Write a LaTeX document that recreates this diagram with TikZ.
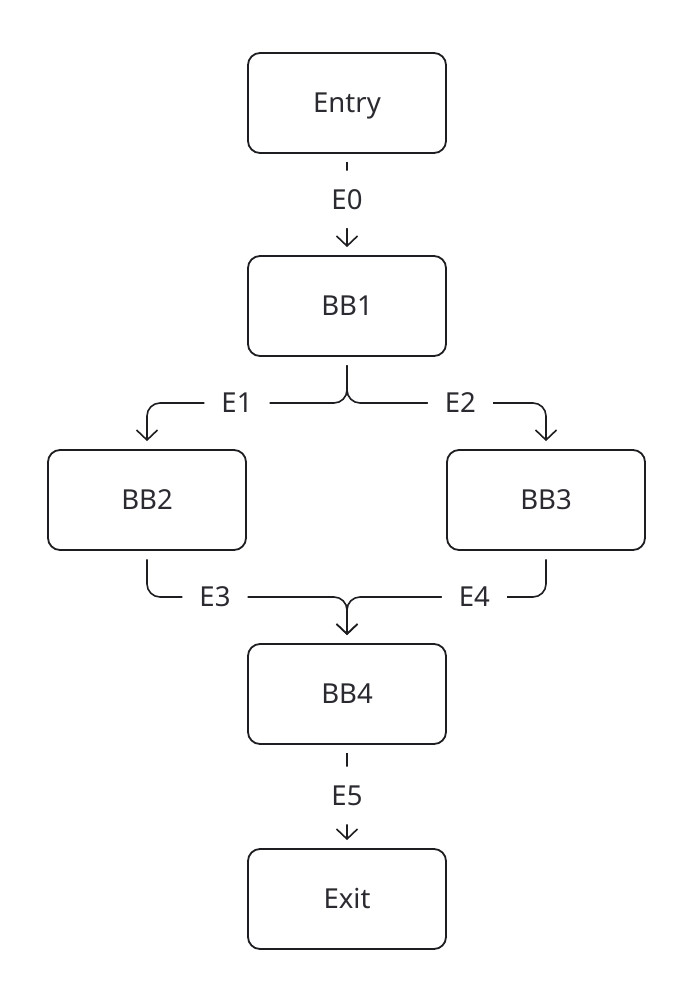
\documentclass[tikz,border=0pt]{standalone}
\usepackage{fontspec}
\setmainfont{Noto Sans}
\usetikzlibrary{arrows.meta}
\definecolor{linec}{HTML}{1E1E22}
\definecolor{textc}{HTML}{2A2A30}
\tikzset{
  block/.style={draw=linec, line width=1.8pt, rounded corners=12pt, minimum width=198pt, minimum height=100pt, inner sep=0pt, text=textc, font=\fontsize{27.5}{32}\selectfont, text height=19.6pt, text depth=0pt},
  conn/.style={draw=linec, line width=1.6pt, rounded corners=13pt, -{Straight Barb[length=10pt,width=21pt,line width=1.6pt]}, shorten <=8.5pt, shorten >=8pt},
  lbl/.style={fill=white, text=textc, font=\fontsize{27.5}{32}\selectfont, text height=19.6pt, text depth=0pt, inner xsep=17pt, inner ysep=19pt}
}
\begin{document}
\begin{tikzpicture}[x=1pt,y=-1pt]
\useasboundingbox[fill=white] (0,0) rectangle (694,1002);
\node[block] (entry) at (347,103) {Entry};
\node[block] (bb1) at (347,306) {BB1};
\node[block] (bb2) at (147,500) {BB2};
\node[block] (bb3) at (546,500) {BB3};
\node[block] (bb4) at (347,694) {BB4};
\node[block] (exit) at (347,899) {Exit};
\coordinate (split) at (347,403);
\coordinate (merge) at (347,597);
\draw[conn] (entry.south) -- node[lbl, pos=0.45] {E0} (bb1.north);
\draw[conn] (bb1.south) -- (split) -- node[lbl, pos=0.55] {E1} (split -| bb2.north) -- (bb2.north);
\draw[conn] (bb1.south) -- (split) -- node[lbl, pos=0.57] {E2} (split -| bb3.north) -- (bb3.north);
\draw[conn] (bb2.south) -- (merge -| bb2.south) -- node[lbl, pos=0.34] {E3} (merge) -- (bb4.north);
\draw[conn] (bb3.south) -- (merge -| bb3.south) -- node[lbl, pos=0.36] {E4} (merge) -- (bb4.north);
\draw[conn] (bb4.south) -- node[lbl, pos=0.49] {E5} (exit.north);
\end{tikzpicture}
\end{document}
